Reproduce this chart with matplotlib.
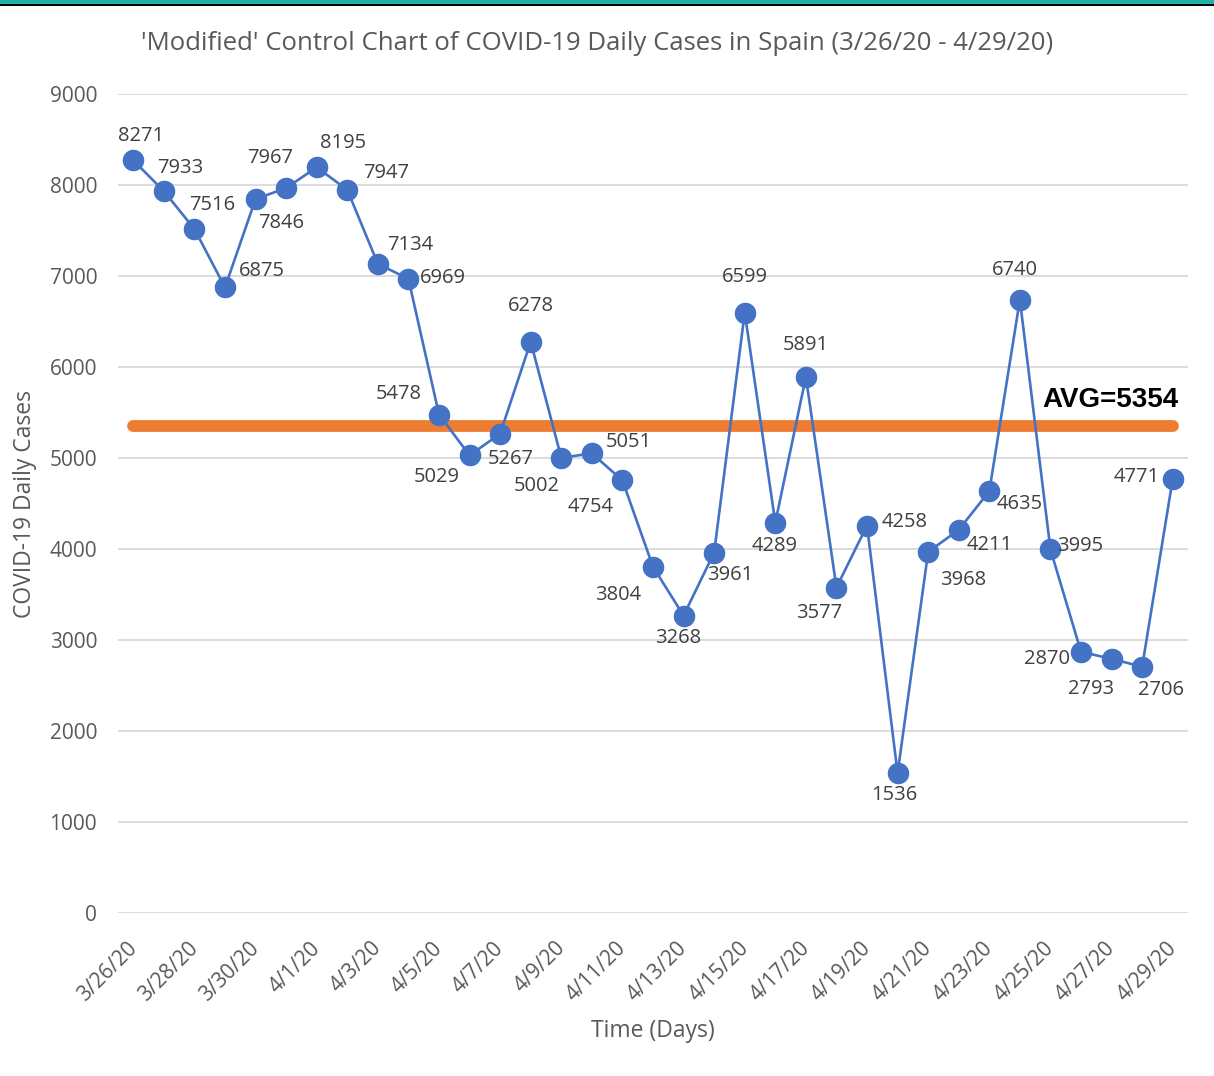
import matplotlib
matplotlib.use('Agg')
import matplotlib.pyplot as plt
from matplotlib.patches import Rectangle
from matplotlib.transforms import ScaledTranslation

# daily cases, 3/26/20 - 4/29/20
dates = ['3/26/20', '3/27/20', '3/28/20', '3/29/20', '3/30/20', '3/31/20', '4/1/20',
         '4/2/20', '4/3/20', '4/4/20', '4/5/20', '4/6/20', '4/7/20', '4/8/20',
         '4/9/20', '4/10/20', '4/11/20', '4/12/20', '4/13/20', '4/14/20', '4/15/20',
         '4/16/20', '4/17/20', '4/18/20', '4/19/20', '4/20/20', '4/21/20', '4/22/20',
         '4/23/20', '4/24/20', '4/25/20', '4/26/20', '4/27/20', '4/28/20', '4/29/20']
cases = [8271, 7933, 7516, 6875, 7846, 7967, 8195, 7947, 7134, 6969, 5478, 5029,
         5267, 6278, 5002, 5051, 4754, 3804, 3268, 3961, 6599, 4289, 5891, 3577,
         4258, 1536, 3968, 4211, 4635, 6740, 3995, 2870, 2793, 2706, 4771]
avg = 5354
yticks = [0, 1000, 2000, 3000, 4000, 5000, 6000, 7000, 8000, 9000]

# label offsets (pixels) for each data label
label_off = [(8, 24), (16, 23), (18, 24), (37, 16), (26, -24), (-16, 30), (26, 24),
             (39, 17), (32, 19), (34, 1), (-40, 21), (-33, -22), (11, -25), (0, 36),
             (-25, -28), (37, 11), (-32, -27), (-35, -28), (-5, -22), (16, -22),
             (0, 36), (-1, -23), (0, 32), (-17, -25), (38, 4), (-3, -22), (35, -28),
             (31, -15), (30, -13), (-5, 30), (30, 3), (-34, -7), (-21, -30),
             (19, -23), (-36, 2)]

plt.rcParams['font.family'] = ['Open Sans', 'DejaVu Sans']
grey = '#595959'
blue = '#4472C4'

fig = plt.figure(figsize=(12.14, 10.76), dpi=100)
ax = fig.add_axes([0.0972, 0.1515, 0.8814, 0.7611])

# top border strip
fig.patches.append(Rectangle((0, 0.9955), 1, 0.0045, transform=fig.transFigure,
                             facecolor='#20B2A6', edgecolor='none'))
fig.patches.append(Rectangle((0, 0.9945), 1, 0.0015, transform=fig.transFigure,
                             facecolor='black', edgecolor='none'))

x = list(range(len(cases)))
ax.plot([x[0], x[-1]], [avg, avg], color='#ED7D31', lw=8.5,
        solid_capstyle='round', zorder=2)
ax.plot(x, cases, color=blue, lw=1.9, marker='o', markersize=14.5, zorder=3)

for xi, v, (dx, dy) in zip(x, cases, label_off):
    ax.annotate(str(v), (xi, v), xytext=(dx, dy), textcoords='offset pixels',
                ha='center', va='center', fontsize=14.5, color='#404040', zorder=4)

ax.text(34.2, avg + 140, 'AVG=' + str(avg), ha='right', va='bottom',
        fontsize=20, fontweight='bold', family='Liberation Sans', color='black')

ax.set_xlim(-0.5, len(cases) - 0.5)
ax.set_ylim(0, 9000)
ax.set_yticks(yticks)
ax.set_yticklabels([str(t) for t in yticks])
ax.set_xticks(x[::2])
ax.set_xticklabels(dates[::2], rotation=45, ha='right', rotation_mode='anchor')
ax.tick_params(axis='both', length=0, labelsize=15, labelcolor=grey)
ax.tick_params(axis='y', pad=15)
ax.tick_params(axis='x', pad=12)
shift = ScaledTranslation(-7 / 100, -8 / 100, fig.dpi_scale_trans)
for lab in ax.get_xticklabels():
    lab.set_transform(lab.get_transform() + shift)
ax.grid(axis='y', color='#D9D9D9', lw=1.3)
ax.set_axisbelow(True)
for s in ax.spines.values():
    s.set_visible(False)

fig.text(597 / 1214, 1 - 44 / 1076,
         "'Modified' Control Chart of COVID-19 Daily Cases in Spain (3/26/20 - 4/29/20)",
         ha='center', va='center', fontsize=18.5, color=grey)
fig.text(653 / 1214, 1 - 1031 / 1076, 'Time (Days)', ha='center', va='center',
         fontsize=16.5, color=grey)
fig.text(25 / 1214, 1 - 504 / 1076, 'COVID-19 Daily Cases', ha='center', va='center',
         rotation=90, fontsize=16.5, color=grey)

fig.savefig('out.png', dpi=100)
